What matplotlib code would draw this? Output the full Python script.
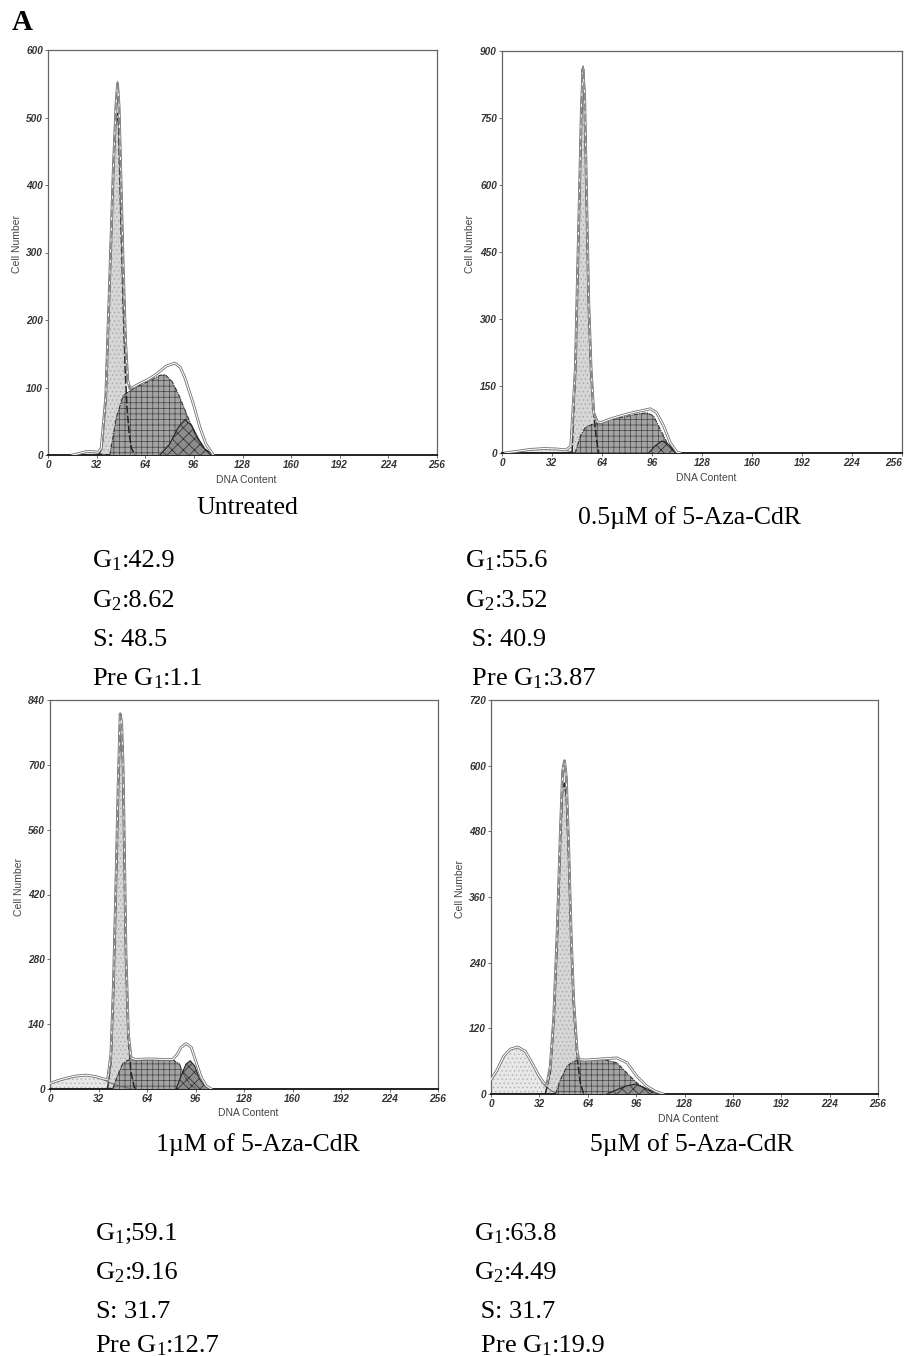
import matplotlib
matplotlib.use("Agg")
import matplotlib.pyplot as plt

plt.rcParams['font.family'] = ['Liberation Serif', 'DejaVu Serif']
plt.rcParams['mathtext.fontset'] = 'custom'
plt.rcParams['mathtext.rm'] = 'Liberation Serif'
plt.rcParams['mathtext.it'] = 'Liberation Serif:italic'
plt.rcParams['hatch.linewidth'] = 0.5

# DNA content channel (x) vs cell number (y)
x_ticks = [0, 32, 64, 96, 128, 160, 192, 224, 256]

# --- untreated
unt_yticks = [0, 100, 200, 300, 400, 500, 600]
unt_pre = [(16, 0), (20, 2), (25, 5), (30, 5), (33, 4), (36, 1), (38, 0)]
unt_g1 = [(33, 0), (35.5, 10), (38, 85), (40.7, 265), (42.9, 415), (44.6, 500), (45.5, 506),
          (46.4, 490), (47.7, 370), (49.5, 220), (50.8, 125), (52, 70), (53.5, 30), (55, 10), (57, 0)]
unt_s = [(40.7, 0), (45, 56), (49.5, 88), (53.8, 95), (60.4, 103), (67, 110), (73.6, 118), (77, 119),
         (81.3, 110), (85.7, 91), (91.2, 61), (96.7, 31), (102, 11), (108.8, 0)]
unt_g2 = [(73.6, 0), (80, 16), (85.7, 41), (90, 52), (94.5, 44), (99, 24), (103.3, 9), (107.7, 0)]
unt_fit = [(16, 0), (20, 2), (25, 5), (30, 5), (33, 4), (35, 10), (38, 85), (40.7, 268), (43, 425),
           (44.8, 520), (45.8, 550), (46.8, 515), (48, 410), (49.5, 280), (51, 170), (52.5, 110),
           (54, 98), (60.4, 106), (66, 112), (71.4, 120), (78, 132), (83.5, 136), (87, 130),
           (90, 115), (95.6, 76), (100, 41), (104, 16), (108.8, 0)]
unt_data = [(36, 20), (38, 85), (40.7, 268), (43, 425), (44.8, 525), (45.8, 553), (46.8, 518),
            (48, 410), (49.5, 280), (51, 170), (52.5, 110), (54, 98), (57, 100)]

# --- 0.5 uM
d05_yticks = [0, 150, 300, 450, 600, 750, 900]
d05_pre = [(2, 0), (10, 4), (18, 8), (27, 10), (35, 9), (41, 6), (45, 2), (47, 0)]
d05_g1 = [(44.8, 0), (46.9, 180), (48.4, 404), (49.7, 590), (50.8, 754), (51.8, 837), (52.9, 792),
          (54, 590), (55.5, 329), (57, 180), (58.7, 90), (60.4, 31), (61.9, 0)]
d05_s = [(46.9, 0), (50.1, 38), (53.3, 57), (57.6, 64), (65, 72), (75.7, 79), (86.4, 87), (92.8, 90),
         (97, 83), (101.3, 53), (105.6, 23), (110, 4), (112, 0)]
d05_g2 = [(93.9, 0), (98, 16), (102.4, 27), (106.7, 19), (111, 2), (112, 0)]
d05_fit = [(2, 0), (10, 4), (18, 8), (27, 10), (35, 9), (41, 7), (44, 15), (46.9, 185), (48.4, 410),
           (49.7, 600), (50.8, 770), (51.8, 860), (52.9, 800), (54, 600), (55.5, 340), (57, 190),
           (58.7, 90), (61, 70), (63, 68), (70, 77), (75.7, 83), (82, 89), (88.5, 94), (95, 99),
           (99, 90), (103.5, 60), (107.7, 23), (112, 2), (114, 0)]
d05_data = [(45, 40), (46.9, 185), (48.4, 410), (49.7, 600), (50.8, 770), (51.8, 866), (52.9, 800),
            (54, 600), (55.5, 340), (57, 190), (58.7, 95), (60, 75), (62, 68)]

# --- 1 uM
d1_yticks = [0, 140, 280, 420, 560, 700, 840]
d1_pre = [(0, 12), (10.4, 23), (17, 28), (23.6, 30), (32.5, 25), (39, 14), (45.7, 6), (54.5, 0)]
d1_g1 = [(38, 0), (40.2, 57), (41.9, 215), (43.5, 431), (45, 646), (46.1, 761), (47, 768),
         (47.9, 732), (49, 538), (50.1, 287), (51.7, 108), (53.4, 36), (55.6, 4), (56.7, 0)]
d1_s = [(41.3, 0), (44.6, 29), (47.9, 54), (51.2, 62), (65.6, 63), (81, 63), (85.4, 54), (88.7, 29),
        (92, 11), (96.5, 0)]
d1_g2 = [(83.2, 0), (86.5, 29), (89.8, 54), (92.5, 61), (95.4, 50), (98.7, 22), (102, 7), (105.3, 0)]
d1_fit = [(0, 12), (5, 18), (10.4, 23), (17, 28), (23.6, 30), (30, 27), (35, 22), (38, 20),
          (40.2, 75), (41.9, 230), (43.5, 445), (45, 660), (46.3, 810), (47.3, 790), (48.2, 700),
          (49, 540), (50.1, 295), (51.7, 120), (53.4, 68), (56, 64), (65.6, 65), (75, 64), (81, 64),
          (84, 75), (86.5, 90), (89.8, 98), (93.2, 90), (96.5, 57), (99.8, 25), (103, 7), (106.4, 0)]
d1_data = [(38, 10), (40.2, 65), (41.9, 225), (43.5, 440), (45, 655), (46.3, 815), (47.3, 790),
           (48.2, 700), (49, 540), (50.1, 295), (51.7, 120), (53.4, 62), (56, 60)]

# --- 5 uM
d5_yticks = [0, 120, 240, 360, 480, 600, 720]
d5_pre = [(0, 26), (4, 44), (8.4, 69), (12.8, 82), (17.6, 86), (22.7, 78), (27.1, 57), (31.5, 32),
          (35.9, 14), (40.4, 5), (44.8, 0)]
d5_g1 = [(35.9, 0), (39.2, 38), (41.5, 130), (43.7, 276), (45.9, 465), (47.4, 556), (48.5, 568),
         (49.8, 544), (51.4, 434), (53.1, 276), (54.7, 160), (56.9, 69), (59.1, 20), (61.3, 0)]
d5_s = [(42.6, 0), (45.9, 26), (50.3, 51), (54.7, 60), (63.5, 63), (74.5, 63), (83.3, 57), (90, 38),
        (96.6, 20), (103.2, 8), (109.8, 0)]
d5_g2 = [(76.7, 0), (83.3, 8), (90, 15), (95.5, 18), (101, 12), (106.5, 5), (112, 0)]
d5_fit = [(0, 26), (4, 44), (8.4, 69), (12.8, 82), (17.6, 86), (22.7, 78), (27.1, 57), (31.5, 34),
          (35, 20), (37, 18), (39.2, 50), (41.5, 140), (43.7, 290), (45.9, 480), (47.4, 590),
          (48.6, 609), (49.8, 580), (51.4, 450), (53.1, 285), (54.7, 170), (56.9, 80), (58, 63),
          (63, 62), (72.3, 64), (78, 65), (83.3, 66), (90, 57), (96.6, 32), (103.2, 14), (108.7, 5),
          (114, 0)]
d5_data = [(35, 15), (37, 20), (39.2, 50), (41.5, 140), (43.7, 290), (45.9, 480), (47.4, 590),
           (48.6, 609), (49.8, 580), (51.4, 450), (53.1, 285), (54.7, 170), (56.9, 80), (58, 63),
           (60, 62)]

captions = ["Untreated", "0.5\u00b5M of 5-Aza-CdR", "1\u00b5M of 5-Aza-CdR", "5\u00b5M of 5-Aza-CdR"]
# each stat line: (label with subscript, rest of the line)
stats = [
    [("G$_1$", ":42.9"), ("G$_2$", ":8.62"), ("S", ": 48.5"), ("Pre G$_1$", ":1.1")],
    [("G$_1$", ":55.6"), ("G$_2$", ":3.52"), (" S", ": 40.9"), (" Pre G$_1$", ":3.87")],
    [("G$_1$", ";59.1"), ("G$_2$", ":9.16"), ("S", ": 31.7"), ("Pre G$_1$", ":12.7")],
    [("G$_1$", ":63.8"), ("G$_2$", ":4.49"), (" S", ": 31.7"), (" Pre G$_1$", ":19.9")],
]

W, H = 907, 1356
fig = plt.figure(figsize=(W / 100, H / 100), dpi=100)


def px_axes(x0, y0, x1, y1):
    return fig.add_axes([x0 / W, 1 - y1 / H, (x1 - x0) / W, (y1 - y0) / H])


def xy(pts):
    return [p[0] for p in pts], [p[1] for p in pts]


def draw_panel(ax, pre, g1, s, g2, fit, data, yticks):
    # filled model components
    x, y = xy(pre)
    ax.fill_between(x, y, 0, facecolor='#e8e8e8', edgecolor='#b0b0b0', hatch='....', lw=0, zorder=1)
    ax.plot(x, y, color='#666', lw=0.7, zorder=5)
    x, y = xy(g1)
    ax.fill_between(x, y, 0, facecolor='#d6d6d6', edgecolor='#a8a8a8', hatch='....', lw=0, zorder=2)
    ax.plot(x, y, color='#222', lw=1.1, dashes=(5, 1.5), zorder=5)
    x, y = xy(s)
    ax.fill_between(x, y, 0, facecolor='#a4a4a4', edgecolor='#444444', hatch='+++', lw=0, zorder=3)
    ax.plot(x, y, color='#333', lw=0.8, dashes=(4, 1, 1, 1), zorder=5)
    x, y = xy(g2)
    ax.fill_between(x, y, 0, facecolor='#8c8c8c', edgecolor='#2a2a2a', hatch='xxx', lw=0, zorder=4)
    ax.plot(x, y, color='#222', lw=0.8, zorder=5)
    # overall fit drawn as a hollow double line
    x, y = xy(fit)
    ax.plot(x, y, color='#707070', lw=2.0, zorder=6, solid_joinstyle='round')
    ax.plot(x, y, color='white', lw=0.8, zorder=6.5, solid_joinstyle='round')
    x, y = xy(data)
    ax.plot(x, y, color='#8a8a8a', lw=1.1, dashes=(5, 2), zorder=7)

    ax.set_xlim(0, 256)
    ax.set_ylim(0, yticks[-1])
    ax.set_xticks(x_ticks)
    ax.set_yticks(yticks)
    for sp in ax.spines.values():
        sp.set_color('#666')
        sp.set_linewidth(0.9)
    ax.spines['bottom'].set_color('#111')
    ax.spines['bottom'].set_linewidth(1.3)
    ax.tick_params(length=2, width=0.6, color='#555', pad=1.5)
    for lab in ax.get_xticklabels() + ax.get_yticklabels():
        lab.set_family(['Liberation Sans', 'DejaVu Sans'])
        lab.set_fontstyle('italic')
        lab.set_fontweight('bold')
        lab.set_fontsize(7.2)
        lab.set_color('#333')
    ax.set_xlabel("DNA Content", family=['Liberation Sans', 'DejaVu Sans'], fontsize=7.5, color='#444')
    ax.set_ylabel("Cell Number", family=['Liberation Sans', 'DejaVu Sans'], fontsize=7.5, color='#444')
    ax.xaxis.set_label_coords(0.51, -0.05)
    ax.yaxis.set_label_coords(-0.068, 0.52)


ax1 = px_axes(48, 50, 437, 455)
draw_panel(ax1, unt_pre, unt_g1, unt_s, unt_g2, unt_fit, unt_data, unt_yticks)
ax2 = px_axes(502, 51, 902, 453)
draw_panel(ax2, d05_pre, d05_g1, d05_s, d05_g2, d05_fit, d05_data, d05_yticks)
# last tick label sits at the page edge; keep it inside
ax2.get_xticklabels()[-1].set_horizontalalignment('right')
ax3 = px_axes(50, 700, 438, 1089)
draw_panel(ax3, d1_pre, d1_g1, d1_s, d1_g2, d1_fit, d1_data, d1_yticks)
ax4 = px_axes(491, 700, 878, 1094)
draw_panel(ax4, d5_pre, d5_g1, d5_s, d5_g2, d5_fit, d5_data, d5_yticks)

fig.text(12 / W, 1 - 30 / H, "A", fontsize=21, fontweight='bold', va='baseline')

cap_pos = [(247, 514), (689, 524), (258, 1151), (692, 1151)]
for (cx, cy), t in zip(cap_pos, captions):
    fig.text(cx / W, 1 - cy / H, t, fontsize=18.5, ha='center', va='baseline')

# stats: draw the subscripted label, measure it, then put the rest right after it
renderer = fig.canvas.get_renderer()
stat_pos = [(92, [567, 607, 646, 685]), (465, [567, 607, 646, 685]),
            (95, [1240, 1279, 1318, 1352]), (474, [1240, 1279, 1318, 1352])]
for (sx, ys), lines in zip(stat_pos, stats):
    for yy, (head, tail) in zip(ys, lines):
        t = fig.text(sx / W, 1 - yy / H, head, fontsize=19, ha='left', va='baseline')
        x_end = t.get_window_extent(renderer).x1
        fig.text(x_end / W, 1 - yy / H, tail, fontsize=19, ha='left', va='baseline')

fig.savefig("out.png", dpi=100)
